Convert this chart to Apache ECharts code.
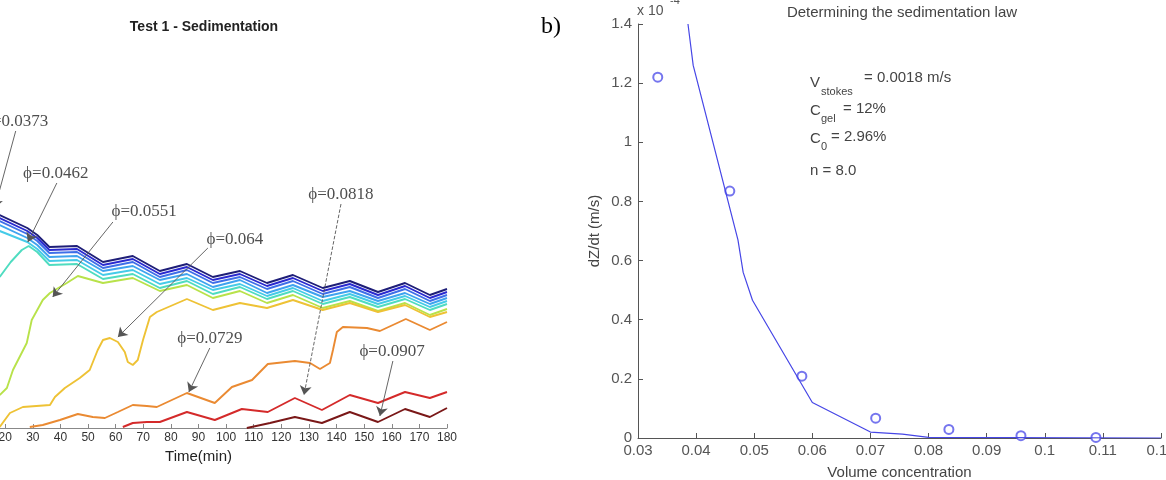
<!DOCTYPE html>
<html>
<head>
<meta charset="utf-8">
<script src="https://cdn.jsdelivr.net/npm/echarts@6/dist/echarts.min.js"></script>
<style>
  html, body { margin: 0; padding: 0; background: #fff; }
  #chart { width: 1166px; height: 480px; }
</style>
</head>
<body>
<div id="chart"></div>
<script>
// ---- left panel: contour lines, time (min) vs height (arbitrary units) ----
var bundleTime = [18, 28, 31.6, 36, 46, 55.4, 66.2, 76, 85.8, 95.2, 105, 114.8, 124.2, 135, 144.8, 155, 164.8, 173.8, 180];
var navyLine  = [213, 200, 193, 181, 182, 166, 172, 157, 164, 151, 157, 145, 153, 140, 147, 136, 145, 133, 139];
var blueLine1 = [210, 197, 190, 178, 179, 163, 169, 154, 161, 148, 154, 142, 150, 137, 144, 133, 142, 130, 136];
var blueLine2 = [207, 194, 187, 175, 176, 160, 166, 151, 158, 145, 151, 139, 147, 134, 141, 130, 139, 127, 133];
var blueLine3 = [203, 190, 183, 171, 172, 157, 162, 148, 154, 141, 148, 135, 143, 131, 137, 127, 135, 124, 130];
var skyLine   = [197, 186, 179, 167, 168, 153, 158, 144, 150, 138, 144, 132, 140, 127, 134, 124, 132, 121, 127];

var cyanLine = [[18, 151], [22, 166], [26, 178], [28.5, 182], [31.6, 176], [36, 163], [46, 164], [55.4, 149],
    [66.2, 154], [76, 140], [85.8, 147], [95.2, 134], [105, 141], [114.8, 129], [124.2, 137], [135, 124],
    [144.8, 131], [155, 121], [164.8, 129], [173.8, 118], [180, 124]];
var greenLine = [[18, 33], [20.6, 40], [22.8, 58], [27.8, 85], [29.6, 108], [33.6, 128], [36.2, 135], [42.3, 145],
    [46.3, 152], [55.4, 145], [66.2, 150], [76, 137], [85.8, 143], [95.2, 130], [105, 137], [114.8, 125],
    [124.2, 133], [135, 120], [144.8, 127], [155, 117], [164.8, 125], [173.8, 113], [180, 119]];
var yellowLine = [[18, 1], [21.7, 15], [26.4, 21], [36.2, 23], [38, 31], [41.6, 40], [47, 50], [50.6, 58],
    [53.5, 78], [55.4, 88], [57.9, 90], [60.8, 86], [63.3, 76], [64.4, 66], [66.2, 63], [68, 68], [69.9, 88],
    [72.4, 111], [74.9, 116], [85.8, 129], [95.2, 118], [105, 125], [114.8, 120], [124.2, 128], [135, 118],
    [144.8, 125], [155, 116], [164.8, 123], [173.8, 111], [180, 116]];
var orangeLine = [[28.9, 1], [33.6, 3], [39.8, 8], [46.3, 14], [51.7, 11], [56.1, 10], [60.8, 16], [66.2, 23],
    [71.3, 22], [74.9, 21], [85.8, 35], [95.9, 25], [102.1, 41], [109.4, 48], [115.1, 64], [124.9, 67],
    [130.4, 65], [134, 59], [137.6, 65], [138.7, 78], [140.1, 96], [142.3, 101], [151, 100], [155.7, 97],
    [165.1, 109], [173.8, 98], [180, 106]];
var redLine = [[62.6, 1], [66.2, 5], [71.3, 6], [76, 6], [85.8, 16], [95.9, 8], [105.7, 19], [115.1, 16],
    [124.9, 30], [134.7, 18], [144.8, 33], [155, 25], [164.8, 36], [173.8, 30], [180, 36]];
var darkRedLine = [[107.5, 0], [115.9, 5], [124.9, 11], [134.7, 5], [144.8, 16], [155, 6], [164.8, 19],
    [173.8, 11], [180, 20]];

var phiLabels = ["ϕ=0.0373", "ϕ=0.0462", "ϕ=0.0551", "ϕ=0.064", "ϕ=0.0729", "ϕ=0.0818", "ϕ=0.0907"];
var labelAt   = [[23.8, 306], [38.3, 254], [70.3, 216], [103.2, 188], [94.1, 89], [141.6, 233], [160.1, 76]];
var arrowFrom = [[23.8, 297], [38.7, 245], [59, 206], [93.4, 180], [94.1, 80], [141.6, 224], [160.4, 67]];
var arrowTo   = [[16.2, 220], [28.2, 186], [37.2, 131], [60.8, 91], [86.5, 36], [128.2, 33], [155.7, 12]];
var dashedArrow = [false, false, false, false, false, true, false];

// ---- right panel: settling velocity vs volume concentration ----
var measuredConc = [0.0334, 0.0458, 0.0582, 0.0709, 0.0835, 0.0959, 0.1088];
var measuredVel  = [1.22, 0.835, 0.209, 0.067, 0.029, 0.008, 0.002];
var fitConc = [0.0386, 0.0395, 0.0472, 0.0481, 0.0497, 0.06, 0.07, 0.0755, 0.08, 0.12];
var fitVel  = [1.4, 1.26, 0.67, 0.56, 0.466, 0.12, 0.02, 0.013, 0.002, 0];

var chart = echarts.init(document.getElementById("chart"));

function zip(xs, ys) {
    return xs.map(function (x, i) { return [x, ys[i]]; });
}

function contour(name, data, color) {
    return {
        name: name,
        type: "line",
        xAxisIndex: 0,
        yAxisIndex: 0,
        data: data,
        showSymbol: false,
        symbol: "none",
        lineStyle: { color: color, width: 1.9 },
        animation: false,
        silent: true
    };
}

var arrows = phiLabels.map(function (t, i) {
    return [
        { coord: arrowFrom[i], lineStyle: { type: dashedArrow[i] ? "dashed" : "solid" } },
        { coord: arrowTo[i] }
    ];
});

var sans = "Liberation Sans";
var serif = "Liberation Serif";

chart.setOption({
    backgroundColor: "#fff",
    title: [
        { text: "Test 1 - Sedimentation", left: 199, top: 15, textAlign: "center",
          textStyle: { fontFamily: sans, fontSize: 14, fontWeight: "bold", color: "#222" } },
        { text: "Determining the sedimentation law", left: 897, top: 0, textAlign: "center",
          textStyle: { fontFamily: sans, fontSize: 15, fontWeight: "normal", color: "#444" } }
    ],
    grid: [
        { left: -50, right: 719, top: 28, bottom: 52, outerBoundsMode: "none", containLabel: false },
        { left: 638, right: 5, top: 24, bottom: 42, outerBoundsMode: "none", containLabel: false }
    ],
    xAxis: [
        {
            gridIndex: 0, type: "value", min: 0, max: 180, interval: 10,
            name: "Time(min)", nameLocation: "middle", nameGap: 17,
            nameTextStyle: { fontFamily: sans, fontSize: 15, color: "#222" },
            axisLine: { lineStyle: { color: "#888", width: 1 } },
            axisTick: { inside: true, length: 4, lineStyle: { color: "#888" } },
            axisLabel: { fontFamily: sans, fontSize: 12, color: "#333", margin: 4 },
            splitLine: { show: false }
        },
        {
            gridIndex: 1, type: "value", min: 0.03, max: 0.12, interval: 0.01,
            name: "Volume concentration", nameLocation: "middle", nameGap: 27,
            nameTextStyle: { fontFamily: sans, fontSize: 15, color: "#444" },
            axisLine: { lineStyle: { color: "#555", width: 1 } },
            axisTick: { inside: true, length: 5, lineStyle: { color: "#555" } },
            axisLabel: { fontFamily: sans, fontSize: 15, color: "#555", margin: 5 },
            splitLine: { show: false }
        }
    ],
    yAxis: [
        { gridIndex: 0, type: "value", min: 0, max: 400, show: false },
        {
            gridIndex: 1, type: "value", min: 0, max: 1.4, interval: 0.2,
            name: "dZ/dt (m/s)", nameLocation: "middle", nameGap: 36,
            nameTextStyle: { fontFamily: sans, fontSize: 15, color: "#444" },
            axisLine: { show: true, lineStyle: { color: "#555", width: 1 } },
            axisTick: { show: true, inside: true, length: 5, lineStyle: { color: "#555" } },
            axisLabel: { fontFamily: sans, fontSize: 15, color: "#555", margin: 6 },
            splitLine: { show: false }
        }
    ],
    graphic: [
        { type: "text", left: 541, top: 15, style: { text: "b)", font: "24px " + serif, fill: "#000" } },
        { type: "text", x: 637, y: 4, style: { text: "x 10", font: "14px " + sans, fill: "#555" } },
        { type: "text", x: 670, y: -5, style: { text: "-4", font: "11px " + sans, fill: "#555" } },
        { type: "text", x: 810, y: 75, style: { text: "V", font: "15px " + sans, fill: "#444" } },
        { type: "text", x: 821, y: 86, style: { text: "stokes", font: "11px " + sans, fill: "#444" } },
        { type: "text", x: 864, y: 70, style: { text: "= 0.0018 m/s", font: "15px " + sans, fill: "#444" } },
        { type: "text", x: 810, y: 103, style: { text: "C", font: "15px " + sans, fill: "#444" } },
        { type: "text", x: 821, y: 113, style: { text: "gel", font: "11px " + sans, fill: "#444" } },
        { type: "text", x: 843, y: 101, style: { text: "= 12%", font: "15px " + sans, fill: "#444" } },
        { type: "text", x: 810, y: 131, style: { text: "C", font: "15px " + sans, fill: "#444" } },
        { type: "text", x: 821, y: 141, style: { text: "0", font: "11px " + sans, fill: "#444" } },
        { type: "text", x: 831, y: 129, style: { text: "= 2.96%", font: "15px " + sans, fill: "#444" } },
        { type: "text", x: 810, y: 163, style: { text: "n = 8.0", font: "15px " + sans, fill: "#444" } }
    ],
    series: [
        contour("0.0017", zip(bundleTime, navyLine), "#1e1e78"),
        contour("0.0106", zip(bundleTime, blueLine1), "#2a2ad0"),
        contour("0.0195", zip(bundleTime, blueLine2), "#3f6fe8"),
        contour("0.0284", zip(bundleTime, blueLine3), "#3fa3ef"),
        contour("0.0373", zip(bundleTime, skyLine), "#45cbe8"),
        contour("0.0462", cyanLine, "#4fdcc0"),
        contour("0.0551", greenLine, "#b8e24a"),
        contour("0.064", yellowLine, "#eec235"),
        contour("0.0729", orangeLine, "#ea8a32"),
        contour("0.0818", redLine, "#d42a2a"),
        contour("0.0907", darkRedLine, "#7a1818"),
        {
            name: "labels",
            type: "scatter",
            xAxisIndex: 0,
            yAxisIndex: 0,
            symbolSize: 0.1,
            itemStyle: { color: "rgba(0,0,0,0)" },
            data: labelAt.map(function (p, i) { return [p[0], p[1], phiLabels[i]]; }),
            label: {
                show: true,
                position: "inside",
                formatter: function (p) { return p.data[2]; },
                fontFamily: serif,
                fontSize: 17,
                color: "#222"
            },
            markLine: {
                silent: true,
                animation: false,
                symbol: ["none", "arrow"],
                symbolSize: 9,
                label: { show: false },
                lineStyle: { color: "#555", width: 0.9 },
                emphasis: { disabled: true },
                data: arrows
            },
            animation: false,
            silent: true
        },
        {
            name: "fit",
            type: "line",
            xAxisIndex: 1,
            yAxisIndex: 1,
            data: zip(fitConc, fitVel),
            showSymbol: false,
            symbol: "none",
            lineStyle: { color: "#4646e6", width: 1.2 },
            animation: false
        },
        {
            name: "measured",
            type: "scatter",
            xAxisIndex: 1,
            yAxisIndex: 1,
            data: zip(measuredConc, measuredVel),
            symbol: "emptyCircle",
            symbolSize: 9,
            itemStyle: { color: "#5252ea", borderWidth: 1.3 },
            animation: false
        }
    ]
});
</script>
</body>
</html>
